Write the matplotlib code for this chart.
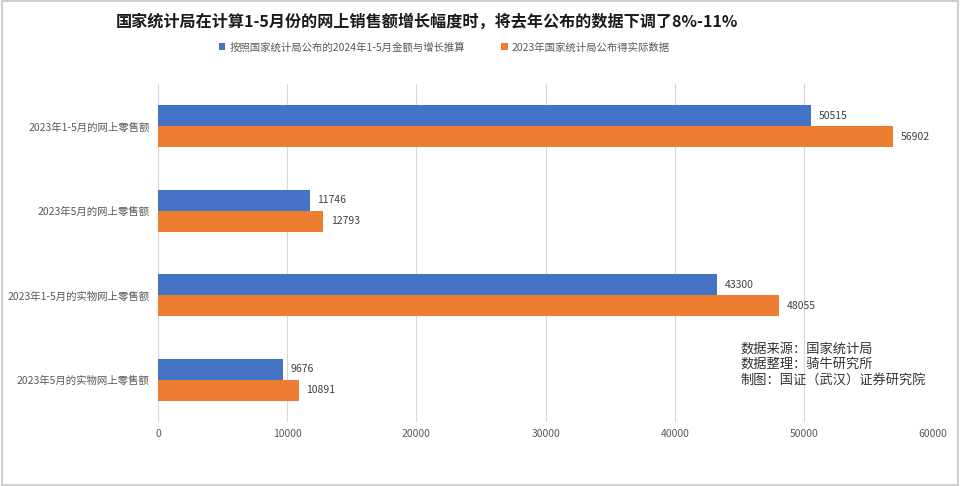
import matplotlib.pyplot as plt
import numpy as np

plt.rcParams["font.family"] = ["Noto Sans CJK SC", "DejaVu Sans"]

categories = [
    "2023年1-5月的网上零售额",
    "2023年5月的网上零售额",
    "2023年1-5月的实物网上零售额",
    "2023年5月的实物网上零售额",
]
estimated = [50515, 11746, 43300, 9676]
reported = [56902, 12793, 48055, 10891]
series_names = [
    "按照国家统计局公布的2024年1-5月金额与增长推算",
    "2023年国家统计局公布得实际数据",
]
ticks = [0, 10000, 20000, 30000, 40000, 50000, 60000]

blue = "#4472C4"
orange = "#ED7D31"
grey = "#595959"

fig = plt.figure(figsize=(9.6, 4.86), dpi=100)
ax = fig.add_axes([0.1646, 0.1317, 0.8074, 0.6953])

y = np.arange(len(categories))
h = 0.25

b1 = ax.barh(y - h / 2, estimated, height=h, color=blue,
             label=series_names[0], zorder=3)
b2 = ax.barh(y + h / 2, reported, height=h, color=orange,
             label=series_names[1], zorder=3)

for bars in (b1, b2):
    for rect in bars:
        w = rect.get_width()
        ax.text(w + 600, rect.get_y() + rect.get_height() / 2, f"{int(w)}",
                va="center", ha="left", fontsize=7.5, color="#404040")

ax.set_ylim(len(categories) - 0.5, -0.5)
ax.set_xlim(0, 60000)
ax.set_yticks(y)
ax.set_yticklabels(categories, fontsize=7.5, color=grey)
ax.set_xticks(ticks)
ax.set_xticklabels([str(t) for t in ticks], fontsize=7.5, color=grey)
ax.tick_params(axis="both", length=0)
ax.tick_params(axis="x", pad=5)
ax.tick_params(axis="y", pad=6)
ax.grid(axis="x", color="#D9D9D9", linewidth=0.8, zorder=0)
for side in ("top", "right", "bottom"):
    ax.spines[side].set_visible(False)
ax.spines["left"].set_color("#D9D9D9")

fig.text(0.445, 0.955, "国家统计局在计算1-5月份的网上销售额增长幅度时，将去年公布的数据下调了8%-11%",
         ha="center", va="center", fontsize=11.6, fontweight="bold", color="#1a1a1a")

fig.legend(handles=[b1, b2], labels=series_names, loc="center",
           bbox_to_anchor=(0.463, 0.903), ncol=2, frameon=False,
           fontsize=7.5, labelcolor=grey, handlelength=0.6, handleheight=0.6,
           columnspacing=3.5, handletextpad=0.4)

fig.text(0.771, 0.25, "数据来源：国家统计局\n数据整理：骑牛研究所\n制图：国证（武汉）证券研究院",
         ha="left", va="center", fontsize=9.5, color="#333333", linespacing=1.25)

fig.patches.append(plt.Rectangle((0.002, 0.003), 0.996, 0.994, transform=fig.transFigure,
                                 fill=False, edgecolor="#D0D0D0", linewidth=1.5))

fig.savefig("out.png", dpi=100)
